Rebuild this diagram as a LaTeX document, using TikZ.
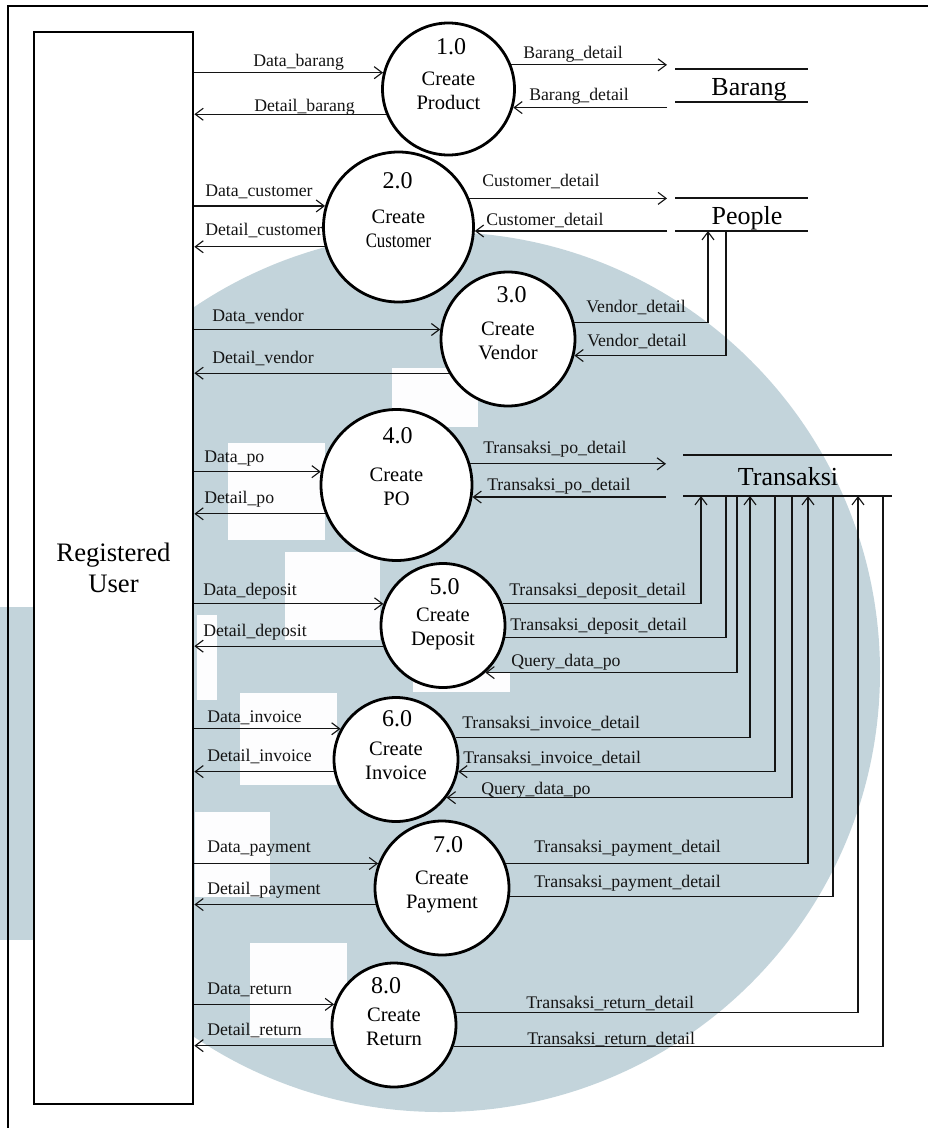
\documentclass[tikz,border=0pt]{standalone}
\usepackage{fontspec}
\usepackage{graphicx}
\setmainfont{Liberation Serif}
\usetikzlibrary{arrows.meta}

\definecolor{wmark}{RGB}{195,212,219}
\definecolor{ink}{RGB}{20,20,20}

\tikzset{
  flow/.style={draw=ink, line width=0.85pt},
  flowto/.style={flow, -{Straight Barb[length=6pt,width=9pt]}},
  lbl/.style={font=\fontsize{13.3pt}{15pt}\selectfont, text=ink, inner sep=0pt, anchor=base west},
  proc/.style={circle, draw=black, line width=2.1pt, fill=white, inner sep=0pt},
  numtext/.style={font=\fontsize{18pt}{20pt}\selectfont, inner sep=0pt, anchor=base},
  proctext/.style={font=\fontsize{15.4pt}{18pt}\selectfont, inner sep=0pt, anchor=base},
  actor/.style={rectangle, draw=black, line width=2pt, fill=white, align=center,
                font=\fontsize{20pt}{23.7pt}\selectfont},
  storebox/.style={rectangle, inner sep=0pt, outer sep=0pt},
  storeline/.style={draw=ink, line width=1.2pt},
  storetext/.style={font=\fontsize{19.5pt}{22pt}\selectfont, inner sep=0pt, anchor=base},
  wblock/.style={fill=white!96!wmark, draw=none},
}

% process bubble: name, x, y, radius, number, object, number lift, number x offset
\newcommand\bubble[8]{%
  \node[proc, minimum size=#4*1.5pt] (#1) at (#2,#3) {};
  \node[numtext] (#1-num) at ([xshift=#8*0.75pt, yshift=#7*0.75pt]#1.center) {#5};
  \node[proctext] (#1-verb) at ([yshift=3pt]#1.center) {Create};
  \node[proctext] (#1-obj) at ([yshift=-15pt]#1.center) {#6};
}

\begin{document}
\begin{tikzpicture}[x=0.75pt, y=-0.75pt]
\useasboundingbox (0,0) rectangle (928,1128);
\clip (0,0) rectangle (928,1128);

% background emblem
\fill[wmark] (440,672) circle (440);
\fill[wmark] (0,607) rectangle (34,940);
\fill[white] (0,500) rectangle (33,607);
\fill[wblock] (392,368) rectangle (478,427);
\fill[wblock] (228,443) rectangle (325,540);
\fill[wblock] (285,552) rectangle (380,640);
\fill[wblock] (197,615) rectangle (217,700);
\fill[wblock] (240,693) rectangle (337,785);
\fill[wblock] (195,812) rectangle (270,897);
\fill[wblock] (250,943) rectangle (347,1038);
\fill[wblock] (413,672) rectangle (510,692);

% page frame
\draw[line width=1.5pt] (8,6) rectangle (950,1150);

% external entity
\node[actor, minimum width=159*0.75pt, minimum height=1072*0.75pt] (user) at (113.5,568) {Registered\\User};

% processes
\bubble{p1}{448.5}{89}{66}{1.0}{Product}{34.7}{2.5}
\bubble{p2}{398.5}{227}{75}{2.0}{\scalebox{0.82}[1]{Customer}}{38.7}{-1}
\bubble{p3}{508}{339}{67}{3.0}{Vendor}{36.7}{3.7}
\bubble{p4}{396.5}{485}{75.5}{4.0}{PO}{41.7}{1}
\bubble{p5}{443}{625.5}{62}{5.0}{Deposit}{31.5}{1.7}
\bubble{p6}{396}{759.5}{62}{6.0}{Invoice}{32.8}{1}
\bubble{p7}{442}{888}{67}{7.0}{Payment}{35.7}{6}
\bubble{p8}{394}{1025}{62}{8.0}{Return}{31.7}{-8}

% data stores
\node[storebox, minimum width=141*0.75pt, minimum height=33*0.75pt] (barang) at (737.5,85.5) {};
\draw[storeline] ([xshift=6pt]barang.north west) -- (barang.north east)
                 ([xshift=6pt]barang.south west) -- (barang.south east);
\node[storetext] (barang-t) at (749,95) {Barang};

\node[storebox, minimum width=141*0.75pt, minimum height=33*0.75pt] (people) at (737.5,214.5) {};
\draw[storeline] ([xshift=6pt]people.north west) -- (people.north east)
                 ([xshift=6pt]people.south west) -- (people.south east);
\node[storetext] (people-t) at (747,224) {People};

\node[storebox, minimum width=226*0.75pt, minimum height=41*0.75pt] (transaksi) at (779,475.5) {};
\draw[storeline] ([xshift=12.75pt]transaksi.north west) -- (transaksi.north east)
                 ([xshift=12.75pt]transaksi.south west) -- (transaksi.south east);
\node[storetext] (transaksi-t) at (788,485.7) {Transaksi};

% 1.0 Create Product
\draw[flowto] (user.east |- p1.166) -- (p1.166);
\draw[flowto] (p1.202) -- (user.east |- p1.202);
\draw[flowto] (p1.21) -- (barang.west |- p1.21);
\draw[flowto] (barang.west |- p1.344) -- (p1.344);
\node[lbl] (l1a) at (253,66.7) {Data\_barang};
\node[lbl] (l1b) at (254,111) {Detail\_barang};
\node[lbl] (l1c) at (523,58.3) {Barang\_detail};
\node[lbl] (l1d) at (529,100) {Barang\_detail};

% 2.0 Create Customer
\draw[flowto] (user.east |- p2.164) -- (p2.164);
\draw[flowto] (p2.195) -- (user.east |- p2.195);
\draw[flowto] (p2.22) -- (people.west |- p2.22);
\draw[flowto] (people.west |- p2.357) -- (p2.357);
\node[lbl] (l2a) at (205,196) {Data\_customer};
\node[lbl] (l2b) at (205,235) {Detail\_customer};
\node[lbl] (l2c) at (482,186.7) {Customer\_detail};
\node[lbl] (l2d) at (486,225) {Customer\_detail};

% 3.0 Create Vendor
\draw[flowto] (user.east |- p3.172) -- (p3.172);
\draw[flowto] (p3.210) -- (user.east |- p3.210);
\draw[flowto] (p3.14) -| (708,0 |- people.south);
\draw[flowto] (726,0 |- people.south) |- (p3.346);
\node[lbl] (l3a) at (212,321.7) {Data\_vendor};
\node[lbl] (l3b) at (212,363.3) {Detail\_vendor};
\node[lbl] (l3c) at (586,312.7) {Vendor\_detail};
\node[lbl] (l3d) at (587,346) {Vendor\_detail};

% 4.0 Create PO
\draw[flowto] (user.east |- p4.170) -- (p4.170);
\draw[flowto] (p4.202) -- (user.east |- p4.202);
\draw[flowto] (p4.16) -- (transaksi.west |- p4.16);
\draw[flowto] (transaksi.west |- p4.351) -- (p4.351);
\node[lbl] (l4a) at (204,462.3) {Data\_po};
\node[lbl] (l4b) at (204,503.3) {Detail\_po};
\node[lbl] (l4c) at (483,453.3) {Transaksi\_po\_detail};
\node[lbl] (l4d) at (487,490.7) {Transaksi\_po\_detail};

% 5.0 Create Deposit
\draw[flowto] (user.east |- p5.160) -- (p5.160);
\draw[flowto] (p5.199) -- (user.east |- p5.199);
\draw[flowto] (p5.20) -| (701,0 |- transaksi.south);
\draw[flow] (p5.349) -| (726,0 |- transaksi.south);
\draw[flowto] (737,0 |- transaksi.south) |- (p5.312);
\node[lbl] (l5a) at (203,595) {Data\_deposit};
\node[lbl] (l5b) at (203,636) {Detail\_deposit};
\node[lbl] (l5c) at (509,595) {Transaksi\_deposit\_detail};
\node[lbl] (l5d) at (510,630) {Transaksi\_deposit\_detail};
\node[lbl] (l5e) at (511,666.7) {Query\_data\_po};

% 6.0 Create Invoice
\draw[flowto] (user.east |- p6.151) -- (p6.151);
\draw[flowto] (p6.191) -- (user.east |- p6.191);
\draw[flowto] (p6.20) -| (750,0 |- transaksi.south);
\draw[flowto] (775,0 |- transaksi.south) |- (p6.349);
\draw[flowto] (792,0 |- transaksi.south) |- (p6.323);
\node[lbl] (l6a) at (207,722.3) {Data\_invoice};
\node[lbl] (l6b) at (207,761.7) {Detail\_invoice};
\node[lbl] (l6c) at (462,728.3) {Transaksi\_invoice\_detail};
\node[lbl] (l6d) at (463,763.3) {Transaksi\_invoice\_detail};
\node[lbl] (l6e) at (481,794) {Query\_data\_po};

% 7.0 Create Payment
\draw[flowto] (user.east |- p7.159) -- (p7.159);
\draw[flowto] (p7.194) -- (user.east |- p7.194);
\draw[flowto] (p7.21) -| (808,0 |- transaksi.south);
\draw[flow] (p7.353) -| (833,0 |- transaksi.south);
\node[lbl] (l7a) at (207,852.7) {Data\_payment};
\node[lbl] (l7b) at (207,894) {Detail\_payment};
\node[lbl] (l7c) at (534,852.7) {Transaksi\_payment\_detail};
\node[lbl] (l7d) at (534,887.3) {Transaksi\_payment\_detail};

% 8.0 Create Return
\draw[flowto] (user.east |- p8.161) -- (p8.161);
\draw[flowto] (p8.199) -- (user.east |- p8.199);
\draw[flowto] (p8.11) -| (858,0 |- transaksi.south);
\draw[flow] (p8.340) -| (883,0 |- transaksi.south);
\node[lbl] (l8a) at (207,994) {Data\_return};
\node[lbl] (l8b) at (207,1035) {Detail\_return};
\node[lbl] (l8c) at (526,1008.3) {Transaksi\_return\_detail};
\node[lbl] (l8d) at (527,1044) {Transaksi\_return\_detail};
\end{tikzpicture}
\end{document}
